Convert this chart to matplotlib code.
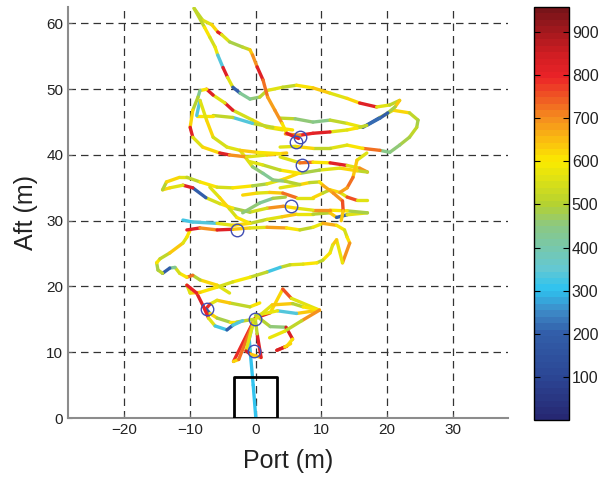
import numpy as np
import matplotlib
matplotlib.use('Agg')
import matplotlib.pyplot as plt
from matplotlib.collections import LineCollection
from matplotlib.colors import LinearSegmentedColormap, Normalize
from matplotlib.cm import ScalarMappable

plt.rcParams['font.family'] = ['Liberation Sans', 'DejaVu Sans']

# trajectory pieces: (port m, aft m, value)
track_stem = [(0.0, 0.0, 300), (-0.4, 5.0, 310), (-0.8, 9.5, 320), (-1.0, 12.0, 330), (-0.4, 14.6, 310)]

track_fan = [(-0.4, 14.6, 780), (-3.4, 8.6, 620), (-2.6, 8.9, 720), (-0.3, 14.8, 560), (-1.5, 10.2, 830),
             (-0.8, 9.7, 640), (0.8, 9.2, 810), (0.2, 12.8, 520), (-0.1, 15.2, 820), (2.2, 16.0, 620),
             (4.1, 19.6, 760), (5.4, 18.2, 560), (9.7, 16.4, 640), (6.2, 15.9, 330), (3.3, 16.3, 580),
             (0.0, 15.6, 500), (2.2, 13.9, 460), (4.6, 13.8, 830), (5.6, 12.0, 600), (4.7, 10.9, 760),
             (3.2, 10.3, 830), (4.4, 10.8, 620), (5.3, 11.3, 200)]

track_low_right = [(-0.1, 15.0, 560), (2.5, 17.2, 640), (5.6, 17.4, 500), (7.2, 16.9, 610), (9.7, 16.4, 700),
                   (7.0, 14.8, 520), (4.4, 13.2, 580), (2.1, 12.2, 460)]

track_low_left = [(0.6, 17.5, 600), (-0.9, 16.9, 520), (-4.0, 17.5, 640), (-5.9, 17.9, 560), (-7.0, 17.3, 780),
                  (-7.6, 16.6, 200), (-7.0, 15.9, 620), (-5.9, 15.2, 480), (-4.0, 14.6, 600), (-2.9, 14.6, 520),
                  (-0.4, 15.0, 700)]

track_low_loop = [(-9.0, 19.0, 820), (-8.0, 17.0, 800), (-7.2, 15.2, 560), (-6.2, 14.0, 320), (-4.4, 13.4, 200),
                  (-3.5, 14.1, 330), (-2.0, 14.8, 560)]

track_band20 = [(-4.0, 19.0, 560), (-5.9, 20.2, 620), (-8.5, 21.0, 500), (-9.6, 21.7, 720), (-10.5, 21.4, 600),
                (-11.6, 22.0, 540), (-12.3, 22.9, 420), (-13.1, 22.8, 200), (-14.2, 22.0, 520), (-14.9, 22.5, 480),
                (-15.1, 23.6, 600), (-14.6, 24.2, 520), (-13.1, 25.1, 640), (-11.1, 26.6, 560), (-10.5, 27.5, 600),
                (-10.0, 28.6, 620)]

track_band28 = [(-10.5, 28.6, 820), (-8.5, 28.9, 700), (-5.9, 28.6, 820), (-3.5, 28.7, 640), (-0.9, 28.9, 560),
                (1.7, 29.0, 680), (4.7, 28.9, 600), (6.7, 28.6, 520), (8.7, 29.0, 580), (10.2, 29.6, 660),
                (12.3, 29.3, 600), (13.5, 28.6, 540), (13.9, 27.5, 600), (14.3, 26.6, 700), (13.2, 23.6, 580),
                (12.3, 27.1, 640), (11.7, 26.3, 560), (11.3, 25.1, 600), (10.2, 24.0, 520), (9.3, 23.6, 610),
                (7.2, 23.4, 560), (5.2, 23.3, 520), (3.7, 22.9, 320), (1.7, 22.2, 520), (-0.9, 21.4, 590),
                (-3.5, 20.7, 540), (-5.9, 19.9, 600), (-8.5, 19.1, 640), (-10.0, 19.0, 560), (-10.5, 20.2, 800),
                (-9.0, 19.0, 820)]

track_band31 = [(-11.1, 30.1, 320), (-9.6, 29.8, 340), (-5.9, 29.6, 560), (-3.5, 29.3, 620), (-0.9, 29.6, 520),
                (1.7, 30.2, 560), (4.0, 30.6, 640), (6.2, 31.0, 580), (8.7, 31.0, 500), (11.3, 31.2, 640),
                (12.3, 30.5, 200), (13.9, 30.9, 560), (17.0, 31.2, 480), (13.9, 31.5, 600), (11.3, 31.6, 700),
                (8.7, 31.6, 560), (6.2, 31.9, 620), (4.2, 32.2, 700), (1.7, 31.9, 540), (-0.9, 31.3, 480),
                (-3.5, 31.9, 600), (-5.5, 32.6, 540), (-7.6, 33.5, 200), (-9.6, 35.0, 820), (-11.1, 35.4, 560),
                (-13.1, 35.0, 620), (-14.2, 34.7, 500), (-13.6, 35.9, 620), (-11.6, 36.6, 560), (-10.5, 36.6, 520),
                (-8.5, 35.9, 600), (-5.9, 35.1, 540), (-3.5, 35.0, 600), (-0.5, 35.3, 480), (1.7, 35.6, 560),
                (4.2, 36.3, 620), (6.5, 37.2, 560)]

track_band34 = [(-2.0, 33.9, 620), (0.2, 34.2, 560), (2.1, 34.3, 640), (4.1, 34.2, 720), (6.2, 33.5, 560),
                (8.7, 33.5, 620), (10.2, 34.2, 520), (11.3, 34.7, 620), (12.8, 34.3, 560), (13.9, 33.6, 760),
                (15.4, 33.1, 560), (16.9, 33.1, 450)]

track_loop35 = [(3.7, 35.0, 560), (6.7, 35.5, 620), (8.2, 35.8, 520), (9.7, 35.9, 600), (10.2, 35.4, 660),
                (11.8, 34.2, 700), (13.2, 33.0, 760), (13.3, 31.5, 640), (13.0, 30.0, 700)]

track_cross_a = [(-7.0, 35.1, 560), (-5.5, 33.5, 620), (-4.0, 31.8, 540), (-2.9, 30.5, 600), (-0.9, 29.6, 560)]
track_cross_b = [(-2.0, 31.2, 450), (0.6, 32.7, 420), (2.6, 33.4, 480), (4.5, 33.6, 500)]

track_band38 = [(3.7, 39.7, 560), (6.7, 38.8, 720), (8.7, 38.9, 600), (11.3, 38.8, 820), (13.9, 38.4, 560),
                (15.8, 38.0, 700), (17.0, 37.4, 520), (15.4, 37.6, 620), (12.8, 38.0, 560), (9.7, 37.7, 480),
                (6.7, 37.2, 600), (3.7, 37.7, 520), (1.0, 38.5, 560), (-1.0, 39.0, 460)]

track_drop = [(16.9, 40.3, 560), (15.4, 39.2, 640), (14.8, 36.6, 720), (13.9, 35.0, 680), (12.8, 34.3, 600)]

track_green = [(-2.4, 40.7, 560), (-0.5, 38.2, 460), (1.1, 37.2, 430), (2.6, 36.2, 460), (4.5, 36.0, 500),
               (6.7, 35.5, 560)]

track_big_loop = [(3.7, 45.6, 520), (6.0, 45.5, 460), (8.7, 45.0, 440), (11.3, 45.3, 520), (13.9, 44.8, 580),
                  (16.3, 44.2, 200), (18.9, 45.7, 560), (20.9, 46.8, 620), (23.4, 46.4, 520), (24.7, 45.3, 480),
                  (24.5, 44.2, 520), (23.4, 42.7, 480), (21.9, 41.5, 460), (20.4, 40.4, 440), (18.9, 40.7, 720),
                  (16.3, 41.0, 600), (13.9, 41.5, 560), (11.3, 41.0, 520), (8.7, 41.0, 620), (6.0, 41.3, 560),
                  (3.7, 41.2, 600)]

track_top_right = [(-0.9, 48.5, 460), (0.6, 48.8, 520), (1.7, 49.8, 560), (4.1, 50.3, 520), (6.2, 50.6, 600),
                   (8.7, 50.2, 640), (11.3, 49.4, 560), (13.9, 48.6, 620), (15.8, 47.9, 820), (18.4, 47.3, 560),
                   (20.4, 47.6, 520), (21.9, 48.3, 640), (21.2, 47.3, 480), (20.1, 46.4, 200), (18.9, 45.6, 220),
                   (16.9, 44.5, 520), (15.4, 44.1, 600), (13.9, 43.8, 560), (11.3, 43.5, 820), (8.7, 43.3, 800),
                   (6.7, 43.0, 700), (4.5, 43.2, 560)]

track_arc_1 = [(-9.4, 62.3, 520), (-8.1, 60.5, 560), (-6.7, 59.8, 620), (-5.8, 58.7, 820), (-5.2, 58.3, 560),
               (-4.0, 57.2, 480), (-2.0, 56.4, 520), (-0.9, 56.0, 640), (-0.5, 55.2, 700), (0.2, 53.4, 820),
               (1.1, 51.4, 720), (1.8, 48.8, 680), (2.9, 46.8, 700), (4.0, 44.8, 600), (4.7, 43.3, 820),
               (6.5, 42.5, 820)]

track_arc_2 = [(-9.4, 62.3, 520), (-7.8, 59.4, 600), (-7.0, 57.9, 540), (-6.2, 56.4, 580), (-5.8, 55.2, 330),
               (-5.0, 53.3, 820), (-4.3, 51.8, 560), (-3.5, 50.3, 200), (-2.4, 49.4, 420), (-0.9, 48.5, 480)]

track_upper_a = [(4.1, 43.8, 560), (1.7, 44.2, 620), (-0.5, 45.3, 540), (-3.5, 46.8, 820), (-4.7, 47.9, 560),
                 (-6.5, 49.1, 820), (-7.5, 50.0, 600), (-8.5, 49.8, 420), (-8.8, 48.8, 500), (-9.6, 46.8, 620),
                 (-10.0, 44.2, 820), (-9.6, 42.7, 560), (-8.1, 41.2, 620), (-5.5, 40.3, 820), (-4.0, 40.0, 700),
                 (-1.4, 39.7, 560), (1.7, 40.0, 640), (4.7, 40.3, 560)]

track_upper_b = [(5.6, 43.8, 600), (2.6, 44.2, 520), (-0.5, 44.8, 330), (-3.5, 45.7, 520), (-6.5, 46.0, 600),
                 (-9.0, 46.0, 330), (-8.5, 48.3, 560), (-7.5, 45.3, 620), (-6.5, 42.7, 540), (-4.4, 41.2, 560),
                 (-2.4, 40.7, 640), (0.2, 40.4, 600), (3.7, 40.2, 700)]

tracks = [track_stem, track_fan, track_low_right, track_low_left, track_low_loop, track_band20, track_band28,
          track_band31, track_band34, track_loop35, track_cross_a, track_cross_b, track_band38, track_drop,
          track_green, track_big_loop, track_top_right, track_arc_1, track_arc_2, track_upper_a, track_upper_b]

# marked positions
marker_x = [-7.5, -0.2, -0.3, -2.9, 5.3, 7.0, 6.1, 6.8]
marker_y = [16.6, 15.0, 10.2, 28.6, 32.2, 38.5, 41.9, 42.8]

# box at the origin
dock_x = [-3.25, -3.25, 3.25, 3.25, -3.25]
dock_y = [0.0, 6.2, 6.2, 0.0, 0.0]

cbar_ticks = [100, 200, 300, 400, 500, 600, 700, 800, 900]
vmin, vmax = 0, 958

stops = [(0, (38, 40, 115)), (100, (44, 72, 150)), (200, (50, 95, 170)), (250, (62, 140, 200)),
         (300, (45, 195, 240)), (350, (100, 200, 210)), (400, (120, 200, 170)), (450, (140, 200, 130)),
         (500, (180, 210, 50)), (600, (250, 235, 0)), (650, (250, 190, 15)), (700, (245, 145, 30)),
         (750, (240, 90, 35)), (800, (235, 35, 40)), (850, (210, 30, 35)), (900, (170, 25, 30)),
         (958, (120, 20, 25))]
cmap = LinearSegmentedColormap.from_list(
    'speed', [((v - vmin) / (vmax - vmin), tuple(c / 255 for c in rgb)) for v, rgb in stops], N=64)
norm = Normalize(vmin, vmax)

fig = plt.figure(figsize=(6.04, 4.78), dpi=100)
ax = fig.add_axes([68 / 604, 60 / 478, 440 / 604, 411 / 478])

for tr in tracks:
    pts = np.array(tr, dtype=float)
    segs = np.stack([pts[:-1, :2], pts[1:, :2]], axis=1)
    lc = LineCollection(segs, cmap=cmap, norm=norm, linewidths=2.4, capstyle='round', joinstyle='round', zorder=3)
    lc.set_array(pts[:-1, 2])
    ax.add_collection(lc)

ax.plot(dock_x, dock_y, color='black', lw=2, zorder=4)
ax.plot(marker_x, marker_y, 'o', ms=9, mfc='none', mec=(0.25, 0.3, 0.7), mew=1, zorder=5)

ax.set_xlim(-28.6, 38.4)
ax.set_ylim(0, 62.5)
ax.set_xticks([-20, -10, 0, 10, 20, 30])
ax.set_yticks([0, 10, 20, 30, 40, 50, 60])
ax.grid(True, linestyle=(0, (6, 4)), color='0.2', linewidth=0.9)
ax.set_axisbelow(True)
for s in ['top', 'right']:
    ax.spines[s].set_visible(False)
for s in ['left', 'bottom']:
    ax.spines[s].set_color('0.55')
    ax.spines[s].set_linewidth(1.5)
ax.tick_params(direction='in', length=3, color='0.4', labelsize=11, labelcolor='#222222')
ax.set_xlabel('Port (m)', fontsize=18, color='#222222', labelpad=9)
ax.set_ylabel('Aft (m)', fontsize=18, color='#222222', labelpad=6)

cax = fig.add_axes([534 / 604, 58 / 478, 35 / 604, 413 / 478])
cb = fig.colorbar(ScalarMappable(norm=norm, cmap=cmap), cax=cax)
cb.set_ticks(cbar_ticks)
cax.tick_params(direction='in', left=True, right=True, length=4, labelsize=11.5, labelcolor='#222222', pad=2)
cb.outline.set_linewidth(1)

fig.savefig('out.png', dpi=100)
